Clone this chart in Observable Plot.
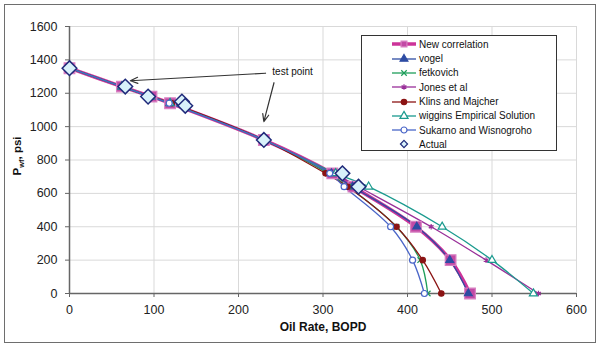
<!DOCTYPE html>
<html><head><meta charset="utf-8">
<script src="https://cdn.jsdelivr.net/npm/d3@7"></script>
<script src="https://cdn.jsdelivr.net/npm/@observablehq/plot@0.6"></script>
<style>
body{margin:0;background:#fff;font-family:"Liberation Sans",Arial,sans-serif;}
#wrap{position:relative;width:600px;height:349px;overflow:hidden;}
#frame{position:absolute;left:4px;top:4px;width:592px;height:339px;border:1.5px solid #6e6e6e;box-sizing:border-box;pointer-events:none;}
#legend{position:absolute;left:361px;top:35px;width:196px;height:116px;border:1px solid #333;background:#fff;box-sizing:border-box;font-size:10px;color:#111;}
.row{position:absolute;left:0;height:14px;display:flex;align-items:center;white-space:nowrap;}
.row svg{margin-left:29px;margin-right:2px;}
</style></head>
<body><div id="wrap"><div id="chart"></div><div id="legend"></div><div id="frame"></div></div>
<script>
// ---- data ----
const pressures = [1350, 1240, 1180, 1140, 920, 720, 640, 400, 200, 0];
const newCorrelation = [0, 62, 97, 119, 230, 311, 336, 410, 451, 474];
const vogel          = [0, 62, 96, 119, 230, 310, 335, 411, 450, 472];
const fetkovich      = [0, 62, 96, 119, 230, 306, 330, 387, 415, 424];
const jonesEtAl      = [0, 62, 96, 119, 230, 313, 342, 428, 493, 555];
const klinsMajcher   = [0, 62, 96, 121, 230, 303, 329, 387, 418, 440];
const wiggins        = [0, 62, 96, 119, 230, 315, 354, 441, 500, 549];
const sukarno        = [0, 62, 96, 118, 230, 308, 325, 380, 406, 420];
const actualRate     = [0, 66, 93, 133, 137, 230, 323, 342];
const actualPressure = [1350, 1240, 1180, 1150, 1125, 920, 720, 640];
const xTicks = [0, 100, 200, 300, 400, 500, 600];
const yTicks = [0, 200, 400, 600, 800, 1000, 1200, 1400, 1600];
const noteText = ["test point"];
const noteX = [240];
const noteY = [1330];
const arrowFromX = [232, 242];
const arrowFromY = [1320, 1263];
const arrowToX = [72, 230];
const arrowToY = [1275, 1030];

// ---- styles ----
const series = [
  {name:"New correlation", values:newCorrelation, color:"#CC3399", width:3.5, symbol:"square", r:6, fill:"#C24AA5", stroke:"#D880C2"},
  {name:"vogel", values:vogel, color:"#2E4CA3", width:1.3, symbol:"triangle", r:2.9, fill:"#2E4CA3", stroke:"#2E4CA3"},
  {name:"fetkovich", values:fetkovich, color:"#1E9E5A", width:1.3, symbol:"times", r:2.6, fill:"none", stroke:"#1E9E5A"},
  {name:"Jones et al", values:jonesEtAl, color:"#992F99", width:1.3, symbol:"asterisk", r:2.6, fill:"none", stroke:"#992F99"},
  {name:"Klins and Majcher", values:klinsMajcher, color:"#8B1414", width:1.3, symbol:"circle", r:2.7, fill:"#8B1414", stroke:"#8B1414"},
  {name:"wiggins Empirical Solution", values:wiggins, color:"#1A9A8E", width:1.3, symbol:"triangle", r:3.0, fill:"#fff", stroke:"#1A9A8E"},
  {name:"Sukarno and Wisnogroho", values:sukarno, color:"#4A66C8", width:1.3, symbol:"circle", r:3, fill:"#fff", stroke:"#4A66C8"}
];
const actualStyle = {name:"Actual", symbol:"diamond2", r:6.6, fill:"#D8F1FA", stroke:"#1F2A7A"};

const toRows = vals => pressures.map((p, i) => ({rate: vals[i], p}));
const actualRows = actualRate.map((r, i) => ({rate: r, p: actualPressure[i]}));
const arrows = arrowFromX.map((x, i) => ({x1: x, y1: arrowFromY[i], x2: arrowToX[i], y2: arrowToY[i]}));
const notes = noteText.map((t, i) => ({t, x: noteX[i], y: noteY[i]}));
const fmt = d => String(d);

const marks = [
  Plot.gridX(xTicks.filter(d => d > 0), {stroke:"#d9d9d9", strokeOpacity:1}),
  Plot.gridY(yTicks.filter(d => d > 0), {stroke:"#d9d9d9", strokeOpacity:1}),
  Plot.axisX(xTicks, {tickSize:4, tickPadding:8, stroke:"#666", fill:"#222", label:null, tickFormat:fmt}),
  Plot.axisY(yTicks, {tickSize:4, tickPadding:8, stroke:"#666", fill:"#222", label:null, tickFormat:fmt}),
  Plot.ruleX([0], {stroke:"#666", strokeWidth:1.5}),
  Plot.ruleY([0], {stroke:"#666", strokeWidth:1.5})
];
for (const s of series) {
  marks.push(Plot.line(toRows(s.values), {x:"rate", y:"p", stroke:s.color, strokeWidth:s.width, curve:"catmull-rom"}));
}
for (const s of series) {
  marks.push(Plot.dot(toRows(s.values), {x:"rate", y:"p", symbol:s.symbol, r:s.r, fill:s.fill, stroke:s.stroke, strokeWidth:1.2}));
}
marks.push(Plot.dot(actualRows, {x:"rate", y:"p", symbol:actualStyle.symbol, r:actualStyle.r, fill:actualStyle.fill, stroke:actualStyle.stroke, strokeWidth:1.5}));
marks.push(Plot.arrow(arrows, {x1:"x1", y1:"y1", x2:"x2", y2:"y2", stroke:"#333", strokeWidth:1.2, headLength:10, headAngle:45}));
marks.push(Plot.text(notes, {x:"x", y:"y", text:"t", textAnchor:"start", fontSize:10, fill:"#111"}));
marks.push(Plot.text(["Oil Rate, BOPD"], {frameAnchor:"bottom", dy:37.5, fontWeight:"bold", fontSize:12, fill:"#111"}));

const chart = Plot.plot({
  width:600, height:349,
  marginLeft:69, marginRight:24, marginTop:26, marginBottom:56,
  x:{domain:[0,600], axis:null},
  y:{domain:[0,1600], axis:null},
  style:{fontFamily:'"Liberation Sans", Arial, sans-serif', fontSize:"12.5px", background:"#fff", color:"#222"},
  marks
});

// y-axis title with subscript
const ns = "http://www.w3.org/2000/svg";
const yt = document.createElementNS(ns, "text");
yt.setAttribute("transform", "translate(21,156) rotate(-90)");
yt.setAttribute("text-anchor", "middle");
yt.setAttribute("font-weight", "bold");
yt.setAttribute("font-size", "11.5");
yt.setAttribute("fill", "#111");
const t1 = document.createElementNS(ns, "tspan"); t1.textContent = "P";
const t2 = document.createElementNS(ns, "tspan"); t2.textContent = "wf"; t2.setAttribute("font-size", "7.5"); t2.setAttribute("dy", "3");
const t3 = document.createElementNS(ns, "tspan"); t3.textContent = ", psi"; t3.setAttribute("dy", "-3");
yt.append(t1, t2, t3);
chart.appendChild(yt);
document.getElementById("chart").appendChild(chart);

// legend
const legend = document.getElementById("legend");
const items = [...series, actualStyle];
items.forEach((s, i) => {
  const row = document.createElement("div");
  row.className = "row";
  row.style.top = (1.3 + i * 14.3) + "px";
  const svg = d3.create("svg").attr("width", 26).attr("height", 14);
  if (s.color) svg.append("line").attr("x1", 1).attr("x2", 25).attr("y1", 7).attr("y2", 7).attr("stroke", s.color).attr("stroke-width", s.width);
  const symMap = {square:d3.symbolSquare, triangle:d3.symbolTriangle, times:d3.symbolTimes, asterisk:d3.symbolAsterisk, circle:d3.symbolCircle, diamond2:d3.symbolDiamond2};
  const rr = s.name === "Actual" ? 3.2 : Math.min(s.r, 3.3);
  svg.append("path").attr("transform", "translate(13,7)")
    .attr("d", d3.symbol(symMap[s.symbol], Math.PI * rr * rr)())
    .attr("fill", s.fill).attr("stroke", s.stroke).attr("stroke-width", 1.2);
  row.appendChild(svg.node());
  const span = document.createElement("span");
  span.textContent = s.name;
  row.appendChild(span);
  legend.appendChild(row);
});
</script></body></html>
